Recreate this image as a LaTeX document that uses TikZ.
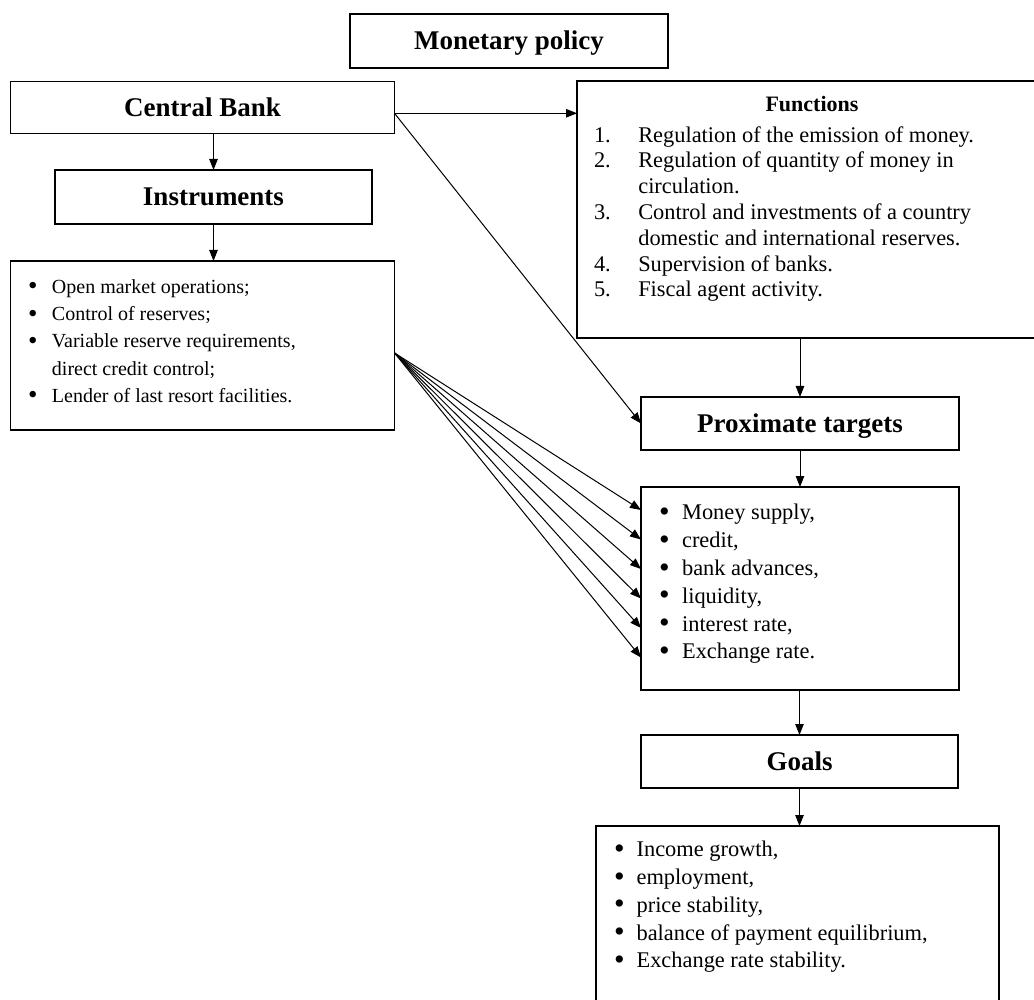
\documentclass[tikz,border=0pt]{standalone}
\usepackage{fontspec}
\usepackage{graphicx}
\setmainfont{Liberation Serif}
\usetikzlibrary{arrows.meta,calc}
\newcommand\blt{\smash{\raisebox{-0.07em}{\scalebox{1.35}{•}}}}
\begin{document}
\begin{tikzpicture}[x=1pt,y=-1pt,
  box/.style={draw,line width=1.3pt,inner sep=0pt,outer sep=0pt},
  head/.style={box,font=\fontsize{27}{32}\selectfont\bfseries,text height=18pt,text depth=0pt},
  arr/.style={line width=1pt,-{Triangle[length=11pt,width=8.5pt]}},
  listtext/.style={anchor=north west,inner sep=0pt,outer sep=0pt}]
\useasboundingbox (0,0) rectangle (1034,1000);
\clip (0,0) rectangle (1034,1000);
\fill[white] (0,0) rectangle (1034,1000);

% boxes
\node[head,minimum width=318,minimum height=54] (mp) at (509,41) {Monetary policy};
\node[head,minimum width=384,minimum height=52.5] (cb) at (202.5,107.5) {Central Bank};
\node[head,minimum width=317,minimum height=54] (ins) at (213.5,197) {Instruments};
\node[box,minimum width=384,minimum height=169] (il) at (202.5,345.5) {};
\node[box,minimum width=468,minimum height=257] (fn) at (811,209.5) {};
\node[head,minimum width=318,minimum height=53] (pt) at (800,423.5) {Proximate targets};
\node[box,minimum width=318,minimum height=203] (pl) at (800,588.5) {};
\node[head,minimum width=317,minimum height=53] (go) at (799.5,761.5) {Goals};
\node[box,minimum width=403,minimum height=190] (gl) at (797.5,921) {};

% texts
\node[font=\fontsize{22}{26}\selectfont\bfseries,anchor=base,inner sep=0pt] (fnh) at (812,111.7) {Functions};
\node[listtext,font=\fontsize{22.4}{25.8}\selectfont] (fnl) at (594,124) {%
\begin{tabular}{@{}p{44.3pt}@{}l@{}}
1. & Regulation of the emission of money.\\
2. & Regulation of quantity of money in\\
   & circulation.\\
3. & Control and investments of a country\\
   & domestic and international reserves.\\
4. & Supervision of banks.\\
5. & Fiscal agent activity.
\end{tabular}};

\node[listtext,font=\fontsize{20}{27.3}\selectfont] (ilt) at (28,274.2) {%
\begin{tabular}{@{}l@{\hspace{14.5pt}}l@{}}
\blt & Open market operations;\\
\blt & Control of reserves;\\
\blt & Variable reserve requirements,\\
     & direct credit control;\\
\blt & Lender of last resort facilities.
\end{tabular}};

\node[listtext,font=\fontsize{22.4}{27.8}\selectfont] (plt) at (659,500.5) {%
\begin{tabular}{@{}l@{\hspace{12.5pt}}l@{}}
\blt & Money supply,\\
\blt & credit,\\
\blt & bank advances,\\
\blt & liquidity,\\
\blt & interest rate,\\
\blt & Exchange rate.
\end{tabular}};

\node[listtext,font=\fontsize{22.4}{27.8}\selectfont] (glt) at (614,837.2) {%
\begin{tabular}{@{}l@{\hspace{12pt}}l@{}}
\blt & Income growth,\\
\blt & employment,\\
\blt & price stability,\\
\blt & balance of payment equilibrium,\\
\blt & Exchange rate stability.
\end{tabular}};

% connection points
\coordinate (cbport) at ($(cb.north east)!0.61!(cb.south east)$);
\coordinate (ilport) at ($(il.north east)!0.544!(il.south east)$);

% connectors
\draw[arr] (cb.south -| ins.north) -- (ins.north);
\draw[arr] (ins.south) -- (ins.south |- il.north);
\draw[arr] (cbport) -- (cbport -| fn.west);
\draw[arr] (cbport) -- (pt.west);
\draw[arr] (fn.south -| pt.north) -- (pt.north);
\draw[arr] (pt.south) -- (pl.north);
\draw[arr] (pl.south -| go.north) -- (go.north);
\draw[arr] (go.south) -- (go.south |- gl.north);
\foreach \i in {0,...,5}{
  \draw[arr] (ilport) -- ($(pl.north west)+(0,23+29.5*\i)$);
}
\end{tikzpicture}
\end{document}
